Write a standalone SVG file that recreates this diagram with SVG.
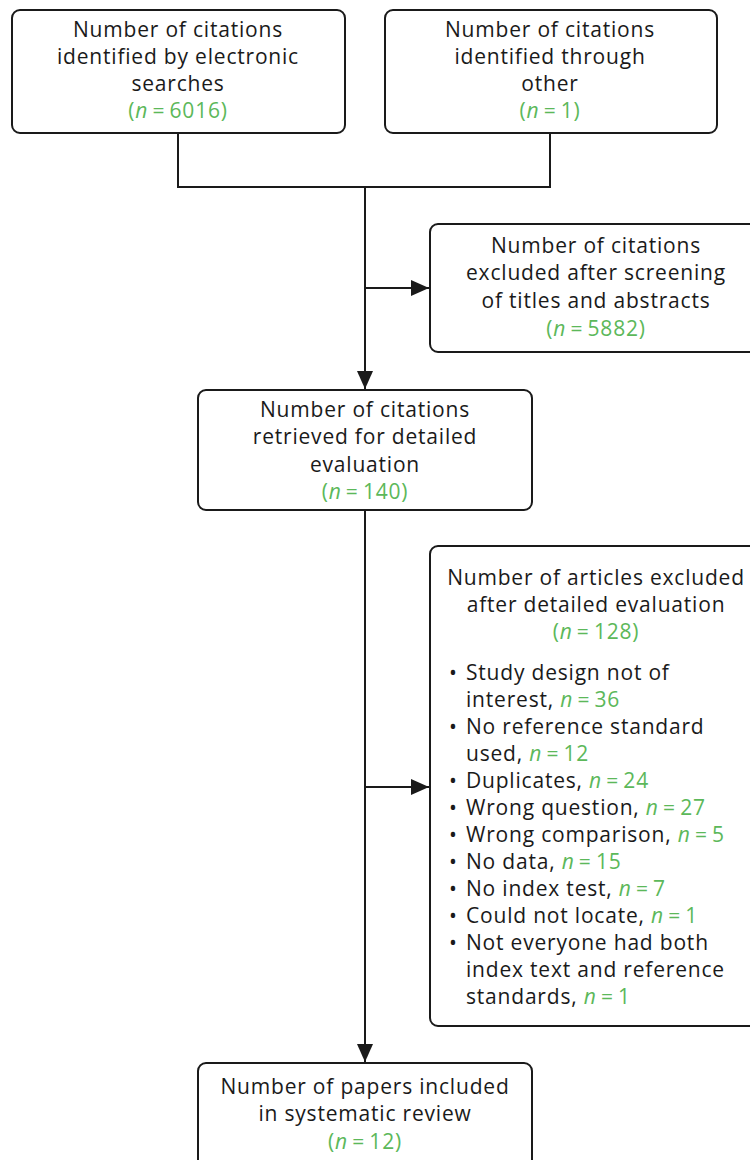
<svg xmlns="http://www.w3.org/2000/svg" width="750" height="1160" viewBox="0 0 750 1160">
<style>
.box{fill:#fff;stroke:#1a1a1a;stroke-width:2}
.t{font-family:"Open Sans","Noto Sans",sans-serif;font-size:21px;letter-spacing:0.8px;fill:#1a1a1a}
.c{text-anchor:middle}
.g{fill:#5cb85a}
.i{font-style:italic}
.ln{fill:none;stroke:#1a1a1a;stroke-width:2}
</style>
<defs>
<marker id="ah" markerWidth="18" markerHeight="16" refX="18" refY="8" orient="auto" markerUnits="userSpaceOnUse">
<path d="M0,0 L18,8 L0,16 Z" fill="#1a1a1a"/>
</marker>
</defs>
<g id="connectors">
<path class="ln" d="M178,133 V187 H550 V133"/>
<path class="ln" d="M365,187 V389" marker-end="url(#ah)"/>
<path class="ln" d="M365,288 H429" marker-end="url(#ah)"/>
<path class="ln" d="M365,510 V1062" marker-end="url(#ah)"/>
<path class="ln" d="M365,787 H429" marker-end="url(#ah)"/>
</g>
<g id="n1">
<rect class="box" x="12" y="10" width="333" height="123" rx="8"/>
<text class="t c" x="178" y="37">Number of citations</text>
<text class="t c" x="178" y="64">identified by electronic</text>
<text class="t c" x="178" y="91">searches</text>
<text class="t c g" x="178" y="118">(<tspan class="i">n</tspan>&#8201;=&#8201;6016)</text>
</g>
<g id="n2">
<rect class="box" x="385" y="10" width="332" height="123" rx="8"/>
<text class="t c" x="550" y="37">Number of citations</text>
<text class="t c" x="550" y="64">identified through</text>
<text class="t c" x="550" y="91">other</text>
<text class="t c g" x="550" y="118">(<tspan class="i">n</tspan>&#8201;=&#8201;1)</text>
</g>
<g id="n3">
<rect class="box" x="430" y="224" width="340" height="128" rx="8"/>
<text class="t c" x="596" y="253">Number of citations</text>
<text class="t c" x="596" y="280">excluded after screening</text>
<text class="t c" x="596" y="308">of titles and abstracts</text>
<text class="t c g" x="596" y="336">(<tspan class="i">n</tspan>&#8201;=&#8201;5882)</text>
</g>
<g id="n4">
<rect class="box" x="198" y="390" width="334" height="120" rx="8"/>
<text class="t c" x="365" y="417">Number of citations</text>
<text class="t c" x="365" y="444">retrieved for detailed</text>
<text class="t c" x="365" y="472">evaluation</text>
<text class="t c g" x="365" y="499">(<tspan class="i">n</tspan>&#8201;=&#8201;140)</text>
</g>
<g id="n5">
<rect class="box" x="430" y="546" width="340" height="480" rx="8"/>
<text class="t c" x="596" y="585">Number of articles excluded</text>
<text class="t c" x="596" y="612">after detailed evaluation</text>
<text class="t c g" x="596" y="639">(<tspan class="i">n</tspan>&#8201;=&#8201;128)</text>
<text class="t" x="449" y="680">•</text><text class="t" x="466" y="680">Study design not of</text>
<text class="t" x="466" y="707">interest, <tspan class="g"><tspan class="i">n</tspan>&#8201;=&#8201;36</tspan></text>
<text class="t" x="449" y="734">•</text><text class="t" x="466" y="734">No reference standard</text>
<text class="t" x="466" y="761">used, <tspan class="g"><tspan class="i">n</tspan>&#8201;=&#8201;12</tspan></text>
<text class="t" x="449" y="788">•</text><text class="t" x="466" y="788">Duplicates, <tspan class="g"><tspan class="i">n</tspan>&#8201;=&#8201;24</tspan></text>
<text class="t" x="449" y="815">•</text><text class="t" x="466" y="815">Wrong question, <tspan class="g"><tspan class="i">n</tspan>&#8201;=&#8201;27</tspan></text>
<text class="t" x="449" y="842">•</text><text class="t" x="466" y="842">Wrong comparison, <tspan class="g"><tspan class="i">n</tspan>&#8201;=&#8201;5</tspan></text>
<text class="t" x="449" y="869">•</text><text class="t" x="466" y="869">No data, <tspan class="g"><tspan class="i">n</tspan>&#8201;=&#8201;15</tspan></text>
<text class="t" x="449" y="896">•</text><text class="t" x="466" y="896">No index test, <tspan class="g"><tspan class="i">n</tspan>&#8201;=&#8201;7</tspan></text>
<text class="t" x="449" y="923">•</text><text class="t" x="466" y="923">Could not locate, <tspan class="g"><tspan class="i">n</tspan>&#8201;=&#8201;1</tspan></text>
<text class="t" x="449" y="950">•</text><text class="t" x="466" y="950">Not everyone had both</text>
<text class="t" x="466" y="977">index text and reference</text>
<text class="t" x="466" y="1004">standards, <tspan class="g"><tspan class="i">n</tspan>&#8201;=&#8201;1</tspan></text>
</g>
<g id="n6">
<rect class="box" x="198" y="1063" width="334" height="120" rx="8"/>
<text class="t c" x="365" y="1094">Number of papers included</text>
<text class="t c" x="365" y="1121">in systematic review</text>
<text class="t c g" x="365" y="1149">(<tspan class="i">n</tspan>&#8201;=&#8201;12)</text>
</g>
</svg>
